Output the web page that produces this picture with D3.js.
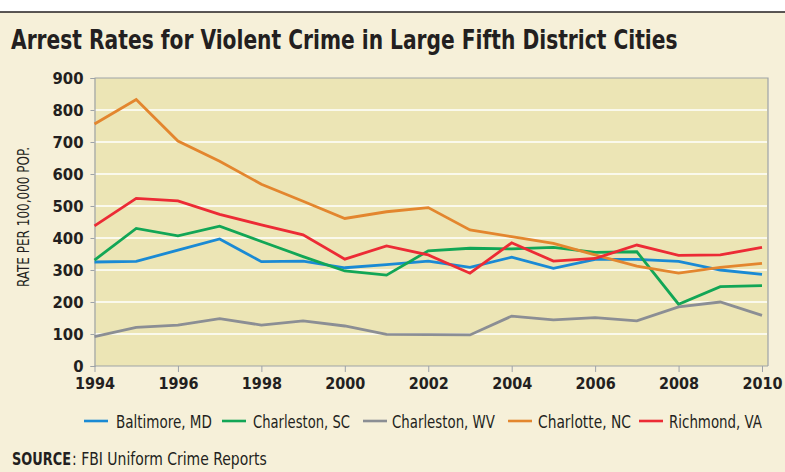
<!DOCTYPE html>
<html>
<head>
<meta charset="utf-8">
<script src="https://cdn.jsdelivr.net/npm/d3@7"></script>
<style>
  html, body { margin: 0; padding: 0; background: #fff; }
  svg { display: block; }
  .narrow { font-family: "DejaVu Sans Condensed", "Liberation Sans Narrow", sans-serif; }
</style>
</head>
<body>
<script>
const years = d3.range(1994, 2011);
const yTicks = [0, 100, 200, 300, 400, 500, 600, 700, 800, 900];
const xTicks = [1994, 1996, 1998, 2000, 2002, 2004, 2006, 2008, 2010];

const cities = ['Baltimore, MD', 'Charleston, SC', 'Charleston, WV', 'Charlotte, NC', 'Richmond, VA'];
const colors = ['#1a8ad4', '#12a656', '#8b8e94', '#e3862e', '#ec2b35'];

const baltimore    = [325, 327, 362, 397, 326, 328, 307, 317, 328, 308, 340, 305, 333, 333, 327, 300, 286];
const charlestonSC = [331, 430, 407, 437, 389, 342, 297, 284, 360, 368, 366, 371, 355, 357, 193, 248, 251];
const charlestonWV = [92, 121, 128, 148, 128, 141, 125, 99, 98, 97, 156, 144, 151, 141, 185, 200, 158];
const charlotte    = [756, 833, 703, 640, 568, 515, 461, 482, 495, 425, 404, 383, 347, 312, 290, 308, 321];
const richmond     = [438, 524, 516, 474, 441, 410, 334, 375, 347, 290, 385, 328, 336, 378, 346, 347, 371];

const seriesValues = [baltimore, charlestonSC, charlestonWV, charlotte, richmond];

const width = 785, height = 472;
const margin = { top: 78, left: 94.5 };
const plotRight = 768;

const svg = d3.select('body').append('svg')
  .attr('width', width)
  .attr('height', height);

// squeeze a text horizontally so it spans `w` pixels, like the condensed face in the original
function fit(sel, left, baseline, w, rotate) {
  sel.each(function () {
    const natural = this.getComputedTextLength();
    const k = w / natural;
    const t = d3.select(this);
    t.attr('x', 0).attr('y', 0);
    if (rotate) {
      t.attr('transform', `translate(${left},${baseline}) rotate(-90) scale(${k},1)`);
    } else {
      t.attr('transform', `translate(${left},${baseline}) scale(${k},1)`);
    }
  });
}

// background panel + top rule
svg.append('rect').attr('x', 0).attr('y', 12).attr('width', width).attr('height', height - 12)
  .attr('fill', '#f6f0d9');
svg.append('line').attr('x1', 0).attr('x2', width).attr('y1', 12).attr('y2', 12)
  .attr('stroke', '#231f20').attr('stroke-width', 1.6);

svg.append('text')
  .attr('class', 'narrow')
  .attr('font-size', 27).attr('font-weight', 'bold')
  .attr('fill', '#231f20')
  .text('Arrest Rates for Violent Crime in Large Fifth District Cities')
  .call(fit, 11, 49, 667);

const x = d3.scaleLinear().domain([1994, 2010]).range([margin.left, 762]);
const y = d3.scaleLinear().domain([0, 900]).range([366, margin.top]);

// plot area
svg.append('rect')
  .attr('x', margin.left).attr('y', y(900))
  .attr('width', plotRight - margin.left).attr('height', y(0) - y(900))
  .attr('fill', '#ece5b5');

// gridlines
svg.append('g').selectAll('line')
  .data(yTicks.filter(d => d > 0 && d < 900))
  .join('line')
  .attr('x1', margin.left).attr('x2', plotRight - 1)
  .attr('y1', d => y(d)).attr('y2', d => y(d))
  .attr('stroke', '#ffffff').attr('stroke-width', 1.6);

// frame (top, right)
svg.append('path')
  .attr('d', `M${margin.left},${y(900)}H${plotRight}V${y(0)}`)
  .attr('fill', 'none').attr('stroke', '#9ea3a8').attr('stroke-width', 1.2);

// y axis
const yAxis = svg.append('g')
  .attr('transform', `translate(${margin.left},0)`)
  .call(d3.axisLeft(y).tickValues(yTicks).tickSize(4).tickPadding(7));
yAxis.select('.domain').attr('stroke', '#9ea3a8').attr('stroke-width', 1.2);
yAxis.selectAll('.tick line').attr('stroke', '#9ea3a8');
yAxis.selectAll('.tick text')
  .attr('class', 'narrow')
  .attr('font-size', 16.5).attr('font-weight', 'bold').attr('fill', '#231f20');

// x axis
const xAxis = svg.append('g')
  .attr('transform', `translate(0,${y(0)})`)
  .call(d3.axisBottom(x).tickValues(xTicks).tickFormat(d3.format('d')).tickSize(6).tickSizeOuter(0).tickPadding(6));
xAxis.select('.domain').attr('d', `M${margin.left},0H${plotRight}`)
  .attr('stroke', '#9ea3a8').attr('stroke-width', 1.2);
xAxis.selectAll('.tick line').attr('stroke', '#9ea3a8');
xAxis.selectAll('.tick text')
  .attr('class', 'narrow')
  .attr('font-size', 16).attr('font-weight', 'bold').attr('fill', '#231f20');

// y axis title
svg.append('text')
  .attr('class', 'narrow')
  .attr('text-anchor', 'middle')
  .attr('font-size', 16).attr('fill', '#231f20')
  .text('RATE PER 100,000 POP.')
  .call(fit, 29, 217, 140, true);

// lines
const line = d3.line()
  .x((d, i) => x(years[i]))
  .y(d => y(d));

svg.append('g').selectAll('path')
  .data(seriesValues)
  .join('path')
  .attr('d', d => line(d))
  .attr('fill', 'none')
  .attr('stroke', (d, i) => colors[i])
  .attr('stroke-width', 2.8)
  .attr('stroke-linejoin', 'miter');

// legend
const legendLineX = [84, 222, 363, 508, 639];
const legendTextX = [116, 253, 392, 538, 669];
const legendTextW = [96, 97, 103, 93, 93];
const legend = svg.append('g').selectAll('g')
  .data(cities)
  .join('g');
legend.append('line')
  .attr('x1', (d, i) => legendLineX[i]).attr('x2', (d, i) => legendLineX[i] + 24)
  .attr('y1', 421).attr('y2', 421)
  .attr('stroke', (d, i) => colors[i]).attr('stroke-width', 2.6);
legend.append('text')
  .attr('class', 'narrow')
  .attr('font-size', 17).attr('fill', '#231f20')
  .text(d => d)
  .each(function (d, i) {
    d3.select(this).call(fit, legendTextX[i], 428, legendTextW[i]);
  });

// source
svg.append('text')
  .attr('class', 'narrow')
  .attr('font-size', 17).attr('font-weight', 'bold').attr('fill', '#231f20')
  .text('SOURCE')
  .call(fit, 12, 465, 59);
svg.append('text')
  .attr('class', 'narrow')
  .attr('font-size', 17).attr('fill', '#231f20')
  .text(': FBI Uniform Crime Reports')
  .call(fit, 72, 465, 195);
</script>
</body>
</html>
